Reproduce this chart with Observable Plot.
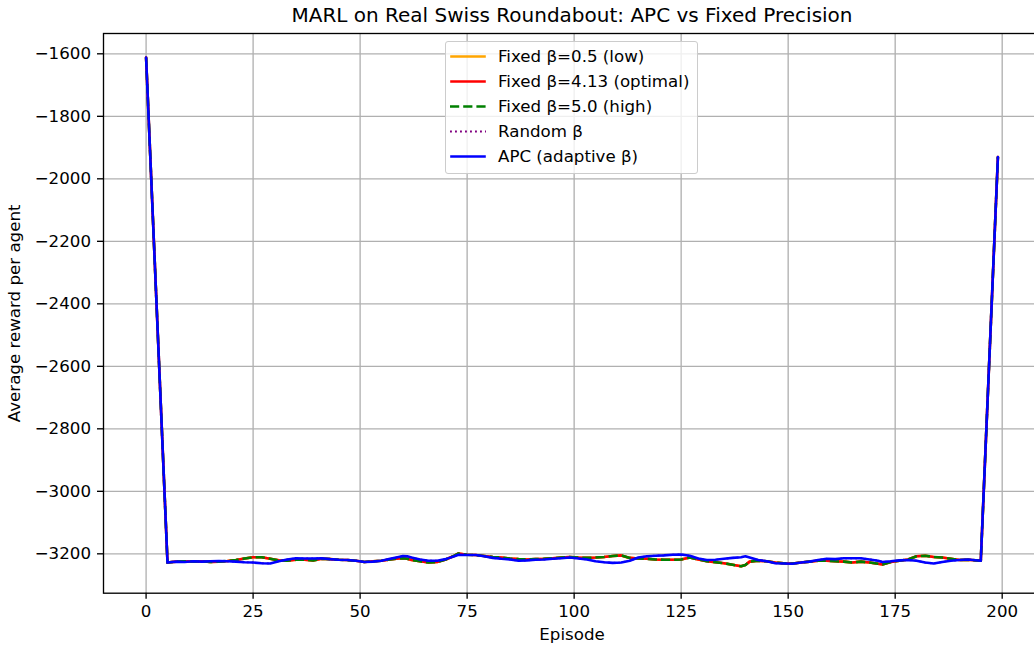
<!DOCTYPE html>
<html>
<head>
<meta charset="utf-8">
<script src="https://cdn.jsdelivr.net/npm/d3@7"></script>
<script src="https://cdn.jsdelivr.net/npm/@observablehq/plot@0.6"></script>
<style>
  body { margin: 0; background: white; }
  #wrap { position: relative; width: 1034px; height: 645px; font-family: "DejaVu Sans", sans-serif; color: #000; overflow: hidden; }
  #title { width: 1034px; height: 30px; line-height: 30px; font-size: 20px; text-align: center; padding-left: 110px; box-sizing: border-box; white-space: nowrap; }
  #legend { position: absolute; left: 445px; top: 41px; width: 251px; height: 129px; border: 1px solid #cccccc; border-radius: 3px; background: rgba(255,255,255,0.8); padding-top: 2px; box-sizing: content-box; }
  .row { height: 25px; display: flex; align-items: center; font-size: 16.67px; white-space: nowrap; }
  .row svg { width: 52px; height: 25px; flex: none; }
</style>
</head>
<body>
<div id="wrap">
  <div id="title"></div>
  <div id="chart"></div>
  <div id="legend"></div>
</div>
<script>
// ---- data ----
const titleText = "MARL on Real Swiss Roundabout: APC vs Fixed Precision";
const xLabel = "Episode";
const yLabel = "Average reward per agent";

const episodes = [0,5,7,9,11,13,15,17,19,21,23,25,27,29,31,33,35,37,39,41,43,45,47,49,51,53,55,57,59,60,61,62,64,66,68,70,72,73,75,77,79,81,83,85,87,89,91,93,95,97,99,101,103,105,107,109,111,113,115,117,119,121,123,125,127,129,131,133,135,137,139,140,141,143,145,147,149,151,153,155,157,159,161,163,165,167,169,171,172,174,176,178,180,182,184,186,188,190,192,195,199];

// the three fixed-β runs coincide in the picture
const fixedReward = [-1612,-3228,-3225,-3224,-3225,-3224,-3226,-3225,-3223,-3220,-3215,-3211,-3211,-3216,-3221,-3222,-3219,-3219,-3221,-3216,-3217,-3219,-3220,-3222,-3226,-3224,-3222,-3218,-3215,-3214,-3216,-3220,-3224,-3228,-3226,-3218,-3206,-3199,-3203,-3204,-3207,-3210,-3212,-3215,-3217,-3218,-3217,-3216,-3214,-3212,-3210,-3212,-3213,-3212,-3210,-3207,-3205,-3213,-3215,-3216,-3218,-3219,-3219,-3218,-3212,-3218,-3224,-3227,-3230,-3235,-3240,-3236,-3225,-3222,-3224,-3228,-3230,-3231,-3228,-3225,-3222,-3222,-3224,-3225,-3228,-3225,-3228,-3232,-3234,-3226,-3222,-3218,-3208,-3206,-3210,-3212,-3216,-3220,-3219,-3222,-1930];

// APC (random β lies underneath it)
const apcReward = [-1612,-3228,-3225,-3226,-3224,-3225,-3224,-3223,-3224,-3225,-3227,-3228,-3230,-3231,-3224,-3218,-3214,-3215,-3215,-3214,-3217,-3219,-3220,-3222,-3226,-3225,-3222,-3216,-3210,-3207,-3208,-3212,-3218,-3222,-3222,-3217,-3208,-3203,-3204,-3204,-3208,-3213,-3216,-3218,-3222,-3221,-3219,-3218,-3216,-3214,-3212,-3215,-3218,-3224,-3227,-3229,-3228,-3222,-3212,-3208,-3206,-3205,-3203,-3202,-3206,-3215,-3220,-3219,-3216,-3213,-3211,-3208,-3212,-3220,-3224,-3230,-3231,-3232,-3228,-3225,-3220,-3216,-3217,-3214,-3214,-3214,-3218,-3222,-3226,-3224,-3221,-3220,-3222,-3228,-3231,-3226,-3222,-3220,-3218,-3222,-1930];

const seriesLabels = ["Fixed β=0.5 (low)", "Fixed β=4.13 (optimal)", "Fixed β=5.0 (high)", "Random β", "APC (adaptive β)"];
const seriesValues = [fixedReward, fixedReward, fixedReward, apcReward, apcReward];

const xTicks = [0, 25, 50, 75, 100, 125, 150, 175, 200];
const yTicks = [-3200, -3000, -2800, -2600, -2400, -2200, -2000, -1800, -1600];

// ---- styles ----
const seriesStyles = [
  {stroke: "#ffa500", width: 2.6, dash: null},
  {stroke: "#ff0000", width: 2.6, dash: null},
  {stroke: "#008000", width: 2.6, dash: "9.2,4"},
  {stroke: "#800080", width: 1.9, dash: "1.9,3.1"},
  {stroke: "#0000ff", width: 2.6, dash: null}
];

if (seriesValues.some(v => v.length !== episodes.length)) throw new Error("length mismatch");

document.getElementById("title").textContent = titleText;

const lineMarks = seriesValues.map((vals, k) => {
  const rows = episodes.map((e, i) => ({episode: e, reward: vals[i]}));
  const s = seriesStyles[k];
  return Plot.line(rows, {
    x: "episode", y: "reward",
    stroke: s.stroke, strokeWidth: s.width,
    strokeDasharray: s.dash || undefined,
    strokeLinecap: s.dash ? "butt" : "round",
    strokeLinejoin: "round"
  });
});

const fmt = d3.format("d");
const chart = Plot.plot({
  width: 1034,
  height: 615,
  marginLeft: 103,
  marginRight: -6,
  marginTop: 3,
  marginBottom: 52.3,
  style: {fontFamily: "DejaVu Sans", fontSize: "16.67px", color: "black", background: "white"},
  x: {domain: [-9.95, 208.95]},
  y: {domain: [-3326, -1535]},
  marks: [
    Plot.gridX(xTicks, {stroke: "#b0b0b0", strokeOpacity: 1, strokeWidth: 1.33}),
    Plot.gridY(yTicks, {stroke: "#b0b0b0", strokeOpacity: 1, strokeWidth: 1.33}),
    ...lineMarks,
    Plot.frame({stroke: "black", strokeWidth: 1.33}),
    Plot.axisX(xTicks, {tickSize: 6, tickPadding: 6, tickFormat: fmt, fontSize: 16.67, strokeWidth: 1.33,
      label: xLabel, labelAnchor: "center", labelArrow: "none", labelOffset: 47}),
    Plot.axisY(yTicks, {tickSize: 6, tickPadding: 6.5, tickFormat: fmt, fontSize: 16.67, strokeWidth: 1.33,
      label: yLabel, labelAnchor: "center", labelArrow: "none", labelOffset: 95})
  ]
});
document.getElementById("chart").appendChild(chart);

// ---- legend ----
const legend = document.getElementById("legend");
seriesLabels.forEach((label, k) => {
  const s = seriesStyles[k];
  const row = document.createElement("div");
  row.className = "row";
  const ns = "http://www.w3.org/2000/svg";
  const svg = document.createElementNS(ns, "svg");
  const ln = document.createElementNS(ns, "line");
  ln.setAttribute("x1", s.dash ? 4 : 5.5);
  ln.setAttribute("x2", s.dash ? 40 : 38.5);
  ln.setAttribute("y1", 12.5);
  ln.setAttribute("y2", 12.5);
  ln.setAttribute("stroke", s.stroke);
  ln.setAttribute("stroke-width", s.width);
  ln.setAttribute("stroke-linecap", s.dash ? "butt" : "square");
  if (s.dash) ln.setAttribute("stroke-dasharray", s.dash);
  svg.appendChild(ln);
  const span = document.createElement("span");
  span.textContent = label;
  row.appendChild(svg);
  row.appendChild(span);
  legend.appendChild(row);
});
</script>
</body>
</html>
